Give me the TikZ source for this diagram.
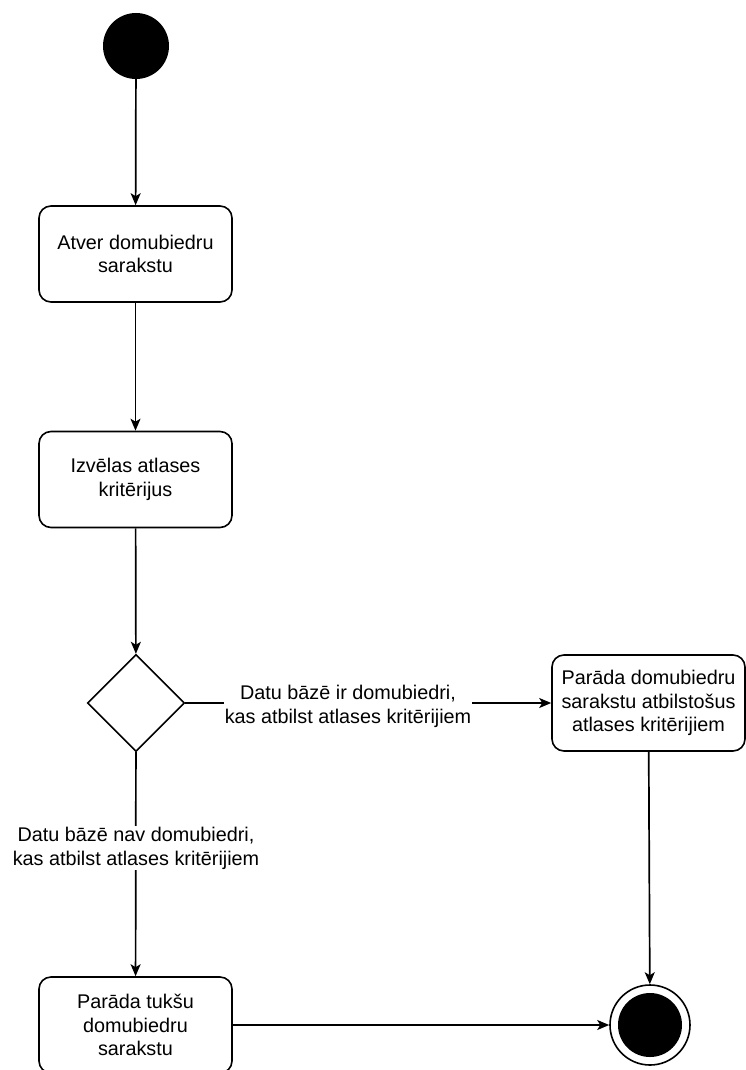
\documentclass[tikz,border=0pt]{standalone}
\usepackage{fontspec}
\setmainfont{Liberation Sans}
\usetikzlibrary{shapes.geometric,arrows.meta}
\begin{document}
\begin{tikzpicture}[x=1pt,y=-1pt,
  every node/.style={font=\fontsize{19.8}{23.8}\selectfont, text=black},
  act/.style={draw, line width=1.6pt, rounded corners=12pt, minimum width=193pt, minimum height=96pt, align=center, inner sep=0pt},
  dec/.style={draw, diamond, line width=1.6pt, minimum width=97pt, minimum height=97pt, inner sep=0pt},
  startnode/.style={circle, fill=black, minimum size=66pt, inner sep=0pt},
  endnode/.style={circle, draw, line width=1.6pt, minimum size=80pt, inner sep=0pt},
  flow/.style={line width=1.7pt, -{Stealth[length=12pt,width=10pt,inset=3pt]}},
  lbl/.style={fill=white, align=center, inner sep=1pt}]
\useasboundingbox (0,0) rectangle (745,1070);
\node[startnode] (s) at (136,46) {};
\node[act] (a1) at (135.5,254) {Atver domubiedru\\sarakstu};
\node[act] (a2) at (135.5,479.5) {Izvēlas atlases\\kritērijus};
\node[dec] (d) at (136,703) {};
\node[act] (a3) at (648.5,703) {Parāda domubiedru\\sarakstu atbilstošus\\atlases kritērijiem};
\node[act] (a4) at (135.5,1025) {Parāda tukšu\\domubiedru\\sarakstu};
\node[endnode] (e) at (650,1025) {};
\fill (e.center) circle (32);
\draw[flow] (s) -- (a1);
\draw[flow] (a1) -- (a2);
\draw[flow] (a2) -- (d);
\draw[flow] (d) -- (a3);
\node[lbl] (l1) at (348,706) {Datu bāzē ir domubiedri,\\kas atbilst atlases kritērijiem};
\draw[flow] (d) -- (a4);
\node[lbl] (l2) at (136,848) {Datu bāzē nav domubiedri,\\kas atbilst atlases kritērijiem};
\draw[flow] (a3) -- (e);
\draw[flow] (a4) -- (e);
\end{tikzpicture}
\end{document}
